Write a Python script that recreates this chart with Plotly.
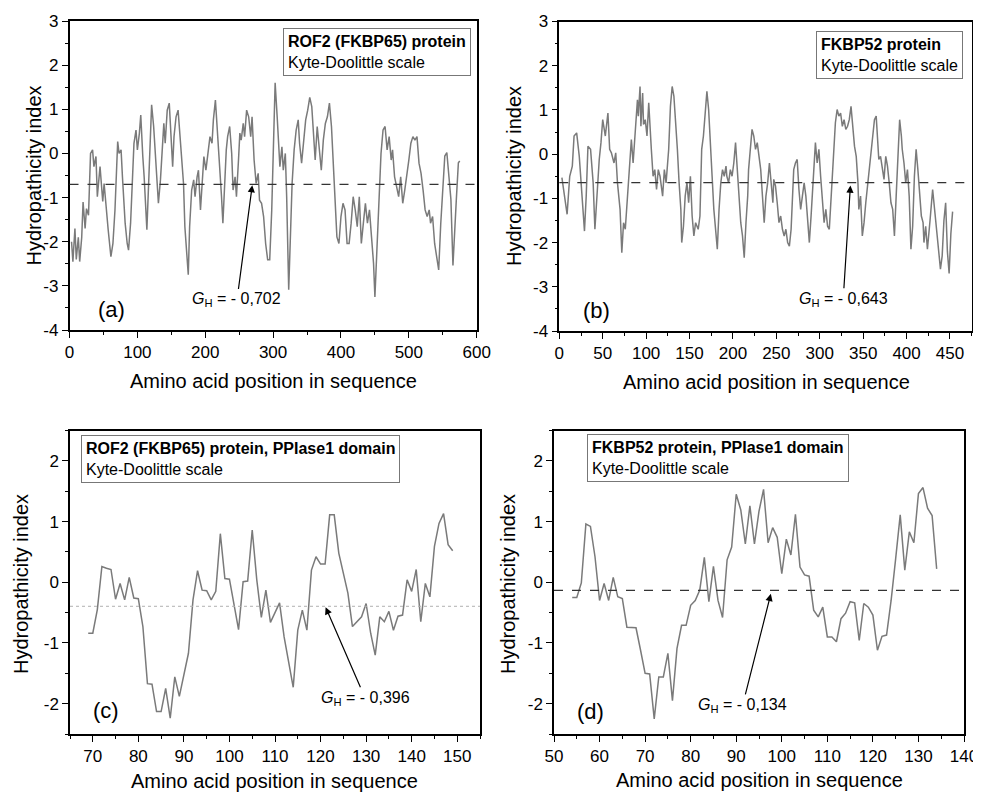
import plotly.graph_objects as go

# ---------------- data ----------------
# (a) ROF2 (FKBP65) full protein
a_pos = [3, 5, 8, 10, 13, 15, 18, 20, 23, 25, 28, 31, 34, 36, 39, 41, 45, 49, 51, 54, 57, 61, 64, 67,
         71, 73, 76, 78, 82, 85, 87, 90, 93, 95, 98, 100, 103, 105, 108, 110, 114, 116, 119, 121, 124,
         126, 129, 131, 134, 136, 139, 141, 144, 147, 149, 152, 154, 157, 160, 163, 166, 168, 170, 173,
         175, 177, 180, 183, 185, 188, 190, 193, 196, 198, 201, 204, 207, 210, 212, 215, 218, 221, 224,
         226, 228, 231, 233, 236, 239, 241, 244, 246, 249, 251, 253, 256, 258, 261, 264, 267, 269, 272,
         275, 278, 280, 283, 286, 289, 292, 295, 298, 301, 303, 306, 308, 310, 313, 315, 318, 320, 323,
         325, 328, 331, 334, 337, 339, 342, 345, 348, 351, 354, 357, 360, 362, 365, 368, 371, 374, 377,
         380, 383, 386, 389, 392, 394, 397, 400, 403, 406, 409, 412, 415, 418, 421, 424, 427, 430, 433,
         436, 439, 442, 445, 448, 450, 453, 456, 459, 462, 465, 468, 471, 474, 476, 479, 482, 485, 488,
         491, 494, 497, 500, 503, 506, 509, 512, 515, 518, 521, 524, 527, 530, 532, 535, 538, 541, 544,
         547, 550, 553, 556, 558, 562, 565, 568, 570, 573, 575]
a_val = [-2.0, -2.45, -1.7, -2.4, -1.9, -2.45, -1.9, -1.1, -1.7, -1.25, -1.4, 0.0, 0.08, -0.30, -0.07,
         -0.98, -0.30, -1.09, -0.68, -1.28, -1.73, -2.34, -2.04, -1.28, 0.27, 0.0, 0.08, -0.53, -1.58,
         -2.04, -2.19, -1.58, -0.30, 0.23, 0.53, 0.08, 0.46, 0.87, -0.07, -0.53, -1.73, -0.83, 0.46, 1.10,
         0.61, 0.08, -0.53, -1.13, -0.60, -0.07, 0.68, 0.23, 0.98, 1.14, 0.53, -0.30, 0.38, 0.83, 0.98,
         0.38, -0.15, -0.68, -1.66, -2.26, -2.75, -1.66, -0.83, -0.60, -0.98, -0.53, -0.38, -1.28, -0.53,
         -0.07, -0.38, 0.08, 0.38, 0.23, 0.76, 1.21, 0.53, -0.07, -0.98, -1.58, -0.83, 0.08, 0.38, 0.61,
         0.0, -0.83, -0.53, -0.98, -0.15, 0.46, 0.30, 0.68, 0.38, 0.98, 0.83, 0.38, 0.83, -0.15, -0.68,
         -0.45, -1.06, -1.13, -1.43, -2.04, -2.41, -2.41, -1.28, 0.38, 1.60, 0.83, 0.08, -0.30, 0.15,
         -0.38, 0.0, -0.98, -3.09, -2.04, -0.68, 0.08, 0.53, 0.76, 0.23, -0.22, 0.23, 0.76, 0.98, 1.27,
         1.06, 0.38, -0.15, 0.61, 0.08, -0.38, 0.30, 0.68, 0.83, 1.14, 0.61, -0.38, -1.28, -1.89, -2.04,
         -1.43, -1.13, -1.28, -2.04, -2.04, -1.58, -0.98, -1.28, -1.66, -0.98, -2.04, -1.58, -1.13, -1.58,
         -1.28, -1.89, -2.49, -3.25, -2.04, -0.98, 0.0, 0.53, 0.61, 0.08, 0.38, -0.15, 0.08, -0.53, -0.75,
         -0.98, -0.53, -1.13, -0.83, -0.53, -0.15, 0.23, 0.38, 0.30, 0.38, -0.22, -0.45, -0.83, -1.28,
         -1.43, -1.28, -1.58, -1.43, -2.04, -2.34, -2.64, -1.6, -0.8, -0.06, 0.02, -0.29, -1.04, -2.54,
         -1.79, -1.04, -0.21, -0.17]

# (b) FKBP52 full protein
b_pos = [3, 5, 6, 9, 12, 15, 17, 20, 23, 26, 29, 31, 33, 36, 39, 41, 44, 46, 48, 50, 53, 56, 58, 60,
         63, 65, 67, 70, 72, 74, 76, 79, 81, 83, 85, 87, 90, 91, 93, 94, 96, 97, 99, 101, 103, 106, 108,
         110, 112, 114, 116, 119, 121, 123, 126, 128, 130, 132, 134, 136, 138, 140, 141, 143, 145, 147,
         149, 151, 153, 155, 157, 160, 162, 164, 166, 168, 170, 172, 174, 176, 178, 180, 182, 184, 186,
         188, 190, 192, 193, 195, 197, 199, 201, 203, 205, 207, 209, 211, 213, 215, 217, 218, 220, 222,
         224, 226, 228, 230, 232, 234, 236, 238, 240, 242, 244, 246, 247, 249, 251, 253, 255, 257, 259,
         261, 263, 265, 267, 268, 270, 272, 274, 276, 278, 280, 282, 284, 286, 288, 290, 292, 294, 295,
         297, 299, 301, 303, 305, 307, 309, 311, 313, 315, 317, 318, 320, 322, 324, 326, 328, 330, 332,
         334, 336, 338, 340, 342, 344, 345, 347, 349, 351, 353, 355, 357, 359, 361, 363, 365, 367, 368,
         370, 372, 374, 376, 378, 380, 382, 384, 386, 388, 390, 392, 394, 395, 397, 399, 401, 403, 405,
         407, 409, 411, 413, 415, 417, 419, 420, 422, 424, 427, 430, 433, 436, 439, 441, 443, 445, 447,
         449, 451, 453]
b_val = [-0.53, -0.80, -1.02, -1.36, -0.50, -0.27, 0.41, 0.48, -0.05, -0.95, -1.74, -0.95, 0.18, 0.11,
         -0.65, -1.70, -0.65, -0.12, 0.26, 0.78, 0.41, 0.93, 0.11, 0.03, -0.20, 0.03, -0.65, -1.25, -2.23,
         -1.55, -1.70, -0.80, -0.35, 0.33, -0.20, 0.41, 1.23, 0.86, 1.53, 0.63, 1.38, 0.67, 0.78, 0.41,
         1.16, 0.11, -0.50, -0.35, -0.80, -0.35, -0.50, -0.95, -0.35, -0.65, 0.11, 1.08, 1.53, 1.31, 0.78,
         0.11, -0.65, -1.25, -2.00, -1.63, -0.95, -0.65, -1.10, -0.50, -1.40, -1.85, -1.55, -1.70, -1.40,
         0.11, 0.41, 1.01, 1.42, 1.01, 0.11, -0.50, -1.25, -1.63, -2.15, -1.25, -0.65, -0.35, -0.50,
         -0.27, -0.50, -0.65, -0.35, -0.50, -0.20, 0.26, -0.35, -1.10, -1.55, -1.85, -2.34, -1.55, -0.95,
         -0.35, 0.11, 0.56, 0.41, 0.11, 0.26, -0.12, -0.35, -0.95, -1.55, -0.95, -0.65, -0.20, -0.65,
         -1.10, -0.57, -0.72, -1.10, -1.55, -1.40, -1.70, -1.85, -1.70, -2.00, -2.08, -1.70, -1.25, -0.35,
         -0.20, -0.12, -0.80, -1.25, -0.95, -0.65, -0.95, -1.40, -2.00, -1.40, -0.65, 0.11, 0.26, -0.20,
         0.11, -0.50, -1.10, -1.55, -1.25, -1.63, -1.70, -0.95, -0.27, 0.26, 0.71, 1.01, 0.86, 0.93, 0.63,
         0.78, 0.56, 0.63, 0.78, 1.08, 0.56, 0.18, -0.05, -0.65, -1.25, -0.95, -1.85, -1.55, -1.10, -0.72,
         -0.35, 0.11, 0.48, 0.78, 0.86, 0.26, -0.12, -0.05, -0.27, -0.57, -0.05, -0.27, -0.65, -1.10,
         -1.25, -1.85, -0.95, 0.11, 0.78, 0.41, 0.11, -0.20, -0.65, -0.35, -0.95, -2.15, -1.63, -0.50,
         0.11, -0.35, -0.95, -1.40, -1.55, -2.00, -1.63, -2.15, -1.5, -0.8, -1.4, -2.0, -2.6, -2.3, -1.5,
         -1.1, -2.2, -2.7, -1.8, -1.3]

# (c) ROF2 (FKBP65) PPIase1 domain
c_pos = list(range(69, 150))
c_val = [-0.84, -0.84, -0.45, 0.26, 0.23, 0.21, -0.28, -0.02, -0.29, 0.08, -0.26, -0.27, -0.73, -1.67,
         -1.68, -2.13, -2.13, -1.75, -2.24, -1.56, -1.88, -1.50, -1.17, -0.29, 0.19, -0.13, -0.14, -0.29,
         -0.15, 0.80, 0.06, 0.05, -0.40, -0.78, 0.01, 0.02, 0.86, 0.04, -0.58, -0.13, -0.66, -0.50, -0.34,
         -0.90, -1.34, -1.73, -0.79, -0.46, -0.79, 0.20, 0.42, 0.30, 0.30, 1.11, 1.11, 0.48, 0.15, -0.18,
         -0.73, -0.65, -0.57, -0.35, -0.84, -1.20, -0.57, -0.65, -0.48, -0.79, -0.56, -0.54, 0.04, -0.15,
         0.21, -0.65, -0.02, -0.24, 0.59, 0.97, 1.13, 0.62, 0.52]

# (d) FKBP52 PPIase1 domain
d_pos = list(range(54, 135))
d_val = [-0.25, -0.25, -0.01, 0.96, 0.92, 0.42, -0.30, -0.02, -0.30, 0.08, -0.24, -0.27, -0.74, -0.75,
         -0.75, -1.12, -1.50, -1.51, -2.25, -1.56, -1.56, -1.17, -1.95, -1.09, -0.71, -0.71, -0.38, -0.30,
         -0.13, 0.41, -0.32, 0.26, -0.30, -0.58, 0.37, 0.58, 1.45, 1.19, 0.63, 1.26, 0.63, 1.17, 1.53,
         0.65, 0.90, 0.74, 0.14, 0.71, 0.45, 1.12, 0.25, 0.12, 0.10, -0.46, -0.57, -0.41, -0.90, -0.90,
         -0.98, -0.60, -0.51, -0.32, -0.34, -0.96, -0.35, -0.41, -0.54, -1.12, -0.89, -0.87, -0.30, 0.39,
         1.11, 0.20, 0.83, 0.65, 1.46, 1.56, 1.22, 1.10, 0.22]

gh_values = [-0.702, -0.643, -0.396, -0.134]
gh_labels = ["- 0,702", "- 0,643", "- 0,396", "- 0,134"]
panel_labels = ["(a)", "(b)", "(c)", "(d)"]
box_titles = ["ROF2 (FKBP65) protein", "FKBP52 protein",
              "ROF2 (FKBP65) protein, PPIase1 domain", "FKBP52 protein, PPIase1 domain"]
box_sub = "Kyte-Doolittle scale"
x_title = "Amino acid position in sequence"
y_title = "Hydropathicity index"
y_ticks_full = [-4, -3, -2, -1, 0, 1, 2, 3]
y_ticks_full_text = ["-4", "-3", "-2", "-1", "0", "1", "2", "3"]
y_ticks_dom = [-2, -1, 0, 1, 2]
y_ticks_dom_text = ["-2", "-1", "0", "1", "2"]

# ---------------- layout settings ----------------
OFF = 8                      # page body margin of the browser
W, H = 981 - OFF, 794 - OFF  # figure size so the page fits the window
FONT = "Liberation Sans, Arial, sans-serif"
panels = [
    dict(x=a_pos, y=a_val, xd=(69.5, 476.7), yd=(21, 330), xr=[0, 600], yr=[-4, 3], dx=100, mx=50,
         yt=(y_ticks_full, y_ticks_full_text), my=0.5, box=(0.524, 0.977), lab=(0.102, 0.065),
         txt=(246.8, -3.32), head=(269.3, -0.72), ghstyle=("#333333", "dash", 1.2),
         xt_pos=(273.5, 381), yt_pos=(33.5, 176)),
    dict(x=b_pos, y=b_val, xd=(559.3, 971.7), yd=(21.5, 331), xr=[0, 475], yr=[-4, 3], dx=50, mx=25,
         yt=(y_ticks_full, y_ticks_full_text), my=0.5, box=(0.622, 0.97), lab=(0.091, 0.067),
         txt=(327, -3.28), head=(335.3, -0.71), ghstyle=("#333333", "dash", 1.2),
         xt_pos=(766, 382), yt_pos=(514, 176)),
    dict(x=c_pos, y=c_val, xd=(70, 480), yd=(430.5, 734), xr=[65, 155], yr=[-2.5, 2.5], dx=10, mx=5,
         yt=(y_ticks_dom, y_ticks_dom_text), my=0.5, box=(0.027, 0.985), lab=(0.088, 0.079),
         txt=(129.8, -1.91), head=(121.1, -0.41), ghstyle=("#b0b0b0", "dot", 1),
         xt_pos=(274, 781), yt_pos=(21, 584)),
    dict(x=d_pos, y=d_val, xd=(554, 964), yd=(430.5, 734), xr=[50, 140], yr=[-2.5, 2.5], dx=10, mx=5,
         yt=(y_ticks_dom, y_ticks_dom_text), my=0.5, box=(0.081, 0.987), lab=(0.089, 0.073),
         txt=(91.4, -2.03), head=(97.6, -0.19), ghstyle=("#333333", "dash", 1.2),
         xt_pos=(759, 780), yt_pos=(508, 584)),
]

fig = go.Figure()
layout = dict(width=W, height=H, margin=dict(l=0, r=0, t=0, b=0, autoexpand=False), autosize=False,
              paper_bgcolor="white", plot_bgcolor="white", showlegend=False,
              font=dict(family=FONT, color="black"))
annotations = []
shapes = []

for i, p in enumerate(panels, start=1):
    sx = "" if i == 1 else str(i)
    xdom = [(p["xd"][0] - OFF) / W, (p["xd"][1] - OFF) / W]
    ydom = [1 - (p["yd"][1] - OFF) / H, 1 - (p["yd"][0] - OFF) / H]
    fig.add_trace(go.Scatter(x=p["x"], y=p["y"], mode="lines",
                             line=dict(color="#7a7a7a", width=1.5),
                             xaxis="x" + sx, yaxis="y" + sx, hoverinfo="skip"))
    common = dict(showline=True, linecolor="black", linewidth=1.5, showgrid=False, zeroline=False,
                  ticks="outside", ticklen=6, tickwidth=1.3, tickcolor="black", automargin=False,
                  tickfont=dict(size=17, family=FONT), mirror=True)
    layout["xaxis" + sx] = dict(common, domain=xdom, range=p["xr"], dtick=p["dx"], tick0=0,
                                anchor="y" + sx,
                                minor=dict(ticks="outside", ticklen=3, dtick=p["mx"], tickcolor="black"))
    layout["yaxis" + sx] = dict(common, domain=ydom, range=p["yr"], tickmode="array",
                                tickvals=p["yt"][0], ticktext=p["yt"][1], anchor="x" + sx,
                                minor=dict(ticks="outside", ticklen=3, dtick=p["my"], tickcolor="black"))
    # mirrored top / right ticks pointing inward
    tx = str(i + 4)
    layout["xaxis" + tx] = dict(overlaying="x" + sx, side="top", anchor="y" + sx, range=p["xr"],
                                dtick=p["dx"], tick0=0, ticks="inside", ticklen=6, tickwidth=1.3,
                                tickcolor="black", automargin=False,
                                showticklabels=False, showgrid=False, zeroline=False, showline=False,
                                minor=dict(ticks="inside", ticklen=3, dtick=p["mx"], tickcolor="black"))
    layout["yaxis" + tx] = dict(overlaying="y" + sx, side="right", anchor="x" + sx, range=p["yr"],
                                tickmode="array", tickvals=p["yt"][0], ticks="inside", ticklen=6,
                                tickwidth=1.3, tickcolor="black", automargin=False,
                                showticklabels=False, showgrid=False, zeroline=False, showline=False,
                                minor=dict(ticks="inside", ticklen=3, dtick=p["my"], tickcolor="black"))

    # axis titles
    annotations.append(dict(xref="paper", yref="paper",
                            x=(p["xt_pos"][0] - OFF) / W, y=1 - (p["xt_pos"][1] - OFF) / H,
                            xanchor="center", yanchor="middle", text=x_title, showarrow=False,
                            font=dict(size=20, family=FONT)))
    annotations.append(dict(xref="paper", yref="paper",
                            x=(p["yt_pos"][0] - OFF) / W, y=1 - (p["yt_pos"][1] - OFF) / H,
                            xanchor="center", yanchor="middle", text=y_title, textangle=-90,
                            showarrow=False, font=dict(size=20, family=FONT)))

    # G_H line
    col, dash, w = p["ghstyle"]
    shapes.append(dict(type="line", xref="x" + sx + " domain", yref="y" + sx,
                       x0=0, x1=1, y0=gh_values[i - 1], y1=gh_values[i - 1],
                       line=dict(color=col, dash=dash, width=w)))
    # info box
    annotations.append(dict(xref="x" + sx + " domain", yref="y" + sx + " domain",
                            x=p["box"][0], y=p["box"][1], xanchor="left", yanchor="top",
                            text="<b>" + box_titles[i - 1] + "</b><br>" + box_sub,
                            align="left", showarrow=False, font=dict(size=16, family=FONT),
                            bordercolor="#777777", borderwidth=1, borderpad=4, bgcolor="white"))
    # panel label
    annotations.append(dict(xref="x" + sx + " domain", yref="y" + sx + " domain",
                            x=p["lab"][0], y=p["lab"][1], xanchor="center", yanchor="middle",
                            text=panel_labels[i - 1], showarrow=False,
                            font=dict(size=22, family=FONT)))
    # G_H text with arrow pointing at the average line
    annotations.append(dict(xref="x" + sx, yref="y" + sx, axref="x" + sx, ayref="y" + sx,
                            x=p["head"][0], y=p["head"][1], ax=p["txt"][0], ay=p["txt"][1],
                            text="<i>G</i><sub>H</sub> = " + gh_labels[i - 1],
                            showarrow=True, arrowhead=2, arrowsize=1.2, arrowwidth=1.2,
                            arrowcolor="black", standoff=0, font=dict(size=16, family=FONT)))

layout["annotations"] = annotations
layout["shapes"] = shapes
fig.update_layout(**layout)
fig.write_html("out.html")
